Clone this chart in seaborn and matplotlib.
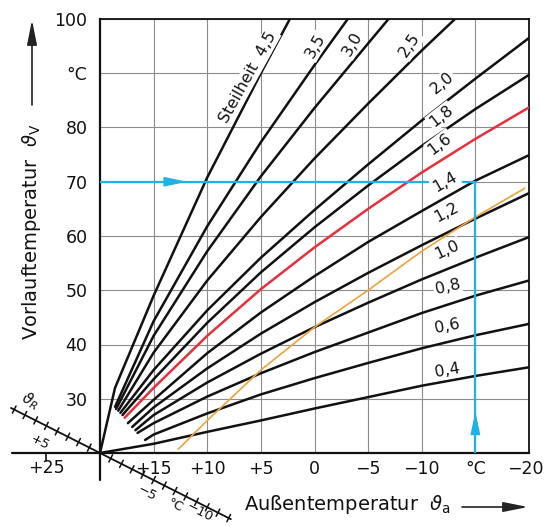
import matplotlib
matplotlib.use("Agg")
import matplotlib.pyplot as plt
import matplotlib.transforms as mtransforms
import seaborn as sns
import pandas as pd

# heating curves: outside temperature (Ta) -> supply temperature (Tv)
ta_04 = [20, 15, 10, 5, 0, -5, -10, -15, -20]
tv_04 = [20, 21.7, 23.9, 26.0, 28.2, 30.3, 32.4, 34.2, 35.8]
ta_06 = [15.8, 15, 10, 5, 0, -5, -10, -15, -20]
tv_06 = [22.4, 23.4, 27.3, 30.8, 33.8, 36.6, 39.3, 41.7, 43.8]
ta_08 = [16.5, 15, 10, 5, 0, -5, -10, -15, -20]
tv_08 = [23.7, 25.5, 30.4, 34.7, 38.6, 42.2, 45.8, 49.0, 51.8]
ta_10 = [16.7, 15, 10, 5, 0, -5, -10, -15, -20]
tv_10 = [24.2, 27.0, 33.0, 38.3, 43.2, 47.7, 52.0, 56.0, 59.8]
ta_12 = [17.0, 15, 10, 5, 0, -5, -10, -15, -20]
tv_12 = [24.8, 28.4, 35.6, 42.0, 47.8, 53.2, 58.3, 63.2, 67.9]
ta_14 = [17.4, 15, 10, 5, 0, -5, -10, -15, -20]
tv_14 = [25.5, 29.8, 38.4, 45.9, 52.6, 58.9, 64.6, 70.2, 74.9]
ta_16 = [17.7, 15, 10, 5, 0, -5, -10, -15, -20]
tv_16 = [26.5, 32.0, 41.6, 50.2, 57.9, 65.0, 71.7, 77.9, 83.7]
ta_18 = [17.9, 15, 10, 5, 0, -5, -10, -15, -20]
tv_18 = [27.0, 33.6, 44.0, 53.3, 61.6, 69.3, 76.6, 83.4, 89.7]
ta_20 = [18.1, 15, 10, 5, 0, -5, -10, -15, -20]
tv_20 = [27.4, 35.3, 46.3, 56.0, 64.8, 73.2, 81.3, 89.0, 96.5]
ta_25 = [18.3, 15, 10, 5, 0, -5, -10, -13.1]
tv_25 = [27.8, 38.5, 51.8, 63.5, 74.3, 84.4, 94.2, 100]
ta_30 = [18.5, 15, 10, 5, 0, -5, -6.9]
tv_30 = [28.1, 41.6, 57.2, 71.0, 83.6, 95.5, 100]
ta_35 = [18.6, 15, 10, 5, 0, -3.1]
tv_35 = [28.5, 44.3, 61.8, 77.3, 91.5, 100]
ta_45 = [20, 18.6, 15, 10, 5, 2.3]
tv_45 = [20, 32.0, 49.0, 70.8, 90.0, 100]

# orange comparison curve
ta_orange = [12.7, 10, 5, 0, -5, -10, -15, -19.6]
tv_orange = [20.7, 26.0, 35.3, 43.2, 50.0, 57.2, 63.5, 68.8]

# curve labels
lab_text = ["Steilheit  4,5", "3,5", "3,0", "2,5", "2,0", "1,8", "1,6",
            "1,4", "1,2", "1,0", "0,8", "0,6", "0,4"]
lab_ta = [6.2, -0.05, -3.5, -8.9, -11.9, -11.8, -11.7, -12.2, -12.3, -12.4, -12.4, -12.4, -12.4]
lab_tv = [89.3, 95.0, 95.4, 95.2, 88.2, 82.1, 77.0, 70.0, 64.4, 57.4, 50.6, 43.4, 35.3]
lab_rot = [61, 60, 60, 56, 40, 38, 37, 30, 28, 25, 13, 11, 10]

# axis ticks
x_ticks = [15, 10, 5, 0, -5, -10, -15, -20]
x_labels = ["+15", "+10", "+5", "0", "\u22125", "\u221210", "\u00b0C", "\u221220"]
y_ticks = [30, 40, 50, 60, 70, 80, 90, 100]
y_labels = ["30", "40", "50", "60", "70", "80", "\u00b0C", "100"]

# room temperature scale (offset in K along the diagonal)
room_ticks = [8, 7, 6, 5, 4, 3, 2, 1, -1, -2, -3, -4, -5, -6, -7, -8, -9, -10, -11, -12]
room_labels = ["+5", "\u22125", "\u00b0C", "\u221210"]
room_lab_ta = [25.6, 15.6, 13.0, 10.7]
room_lab_tv = [22.0, 12.6, 10.4, 9.0]

# example reading: Ta = -15 degC, Tv = 70 degC
ex_ta = -15
ex_tv = 70

BLUE = "#1fb2e6"
RED = "#e8303c"
ORANGE = "#f0a23c"
INK = "#111111"

curves = [("0,4", ta_04, tv_04), ("0,6", ta_06, tv_06), ("0,8", ta_08, tv_08),
          ("1,0", ta_10, tv_10), ("1,2", ta_12, tv_12), ("1,4", ta_14, tv_14),
          ("1,6", ta_16, tv_16), ("1,8", ta_18, tv_18), ("2,0", ta_20, tv_20),
          ("2,5", ta_25, tv_25), ("3,0", ta_30, tv_30), ("3,5", ta_35, tv_35),
          ("4,5", ta_45, tv_45)]
rows = []
for name, ta, tv in curves:
    for a, v in zip(ta, tv):
        rows.append({"curve": name, "ta": a, "tv": v})
df = pd.DataFrame(rows)
palette = {name: (RED if name == "1,6" else INK) for name, _, _ in curves}

sns.set_style("white")
plt.rcParams["font.family"] = ["DejaVu Sans"]
plt.rcParams["mathtext.fontset"] = "dejavusans"

fig = plt.figure(figsize=(5.46, 5.26), dpi=100)
ax = fig.add_axes([100 / 546, 1 - 453 / 526, 429 / 546, 434 / 526])
ax.set_xlim(20, -20)
ax.set_ylim(20, 100)

sns.lineplot(data=df, x="ta", y="tv", hue="curve", palette=palette, units="curve",
             estimator=None, sort=False, legend=False, lw=1.8, ax=ax, zorder=3)
sns.lineplot(x=ta_orange, y=tv_orange, color=ORANGE, lw=1.2, sort=False, ax=ax, zorder=3)

# grid and frame
ax.set_xticks(x_ticks)
ax.set_xticklabels(x_labels)
ax.set_yticks(y_ticks)
ax.set_yticklabels(y_labels)
ax.grid(True, color="#8c8c8c", lw=0.8, zorder=0)
ax.tick_params(length=0, labelsize=12.5, colors=INK)
ax.tick_params(axis="x", pad=5)
ax.tick_params(axis="y", pad=9)
# last x label sits on the figure edge, nudge it in a little
last = ax.get_xticklabels()[-1]
last.set_transform(last.get_transform() + mtransforms.ScaledTranslation(-4 / 100, 0, fig.dpi_scale_trans))
ax.set_xlabel("")
ax.set_ylabel("")
for s in ax.spines.values():
    s.set_color(INK)
    s.set_linewidth(1.3)
ax.spines["left"].set_linewidth(1.6)
ax.spines["bottom"].set_linewidth(1.6)

# extended axis lines through the origin
ax.plot([20, 20], [20, 15.0], color=INK, lw=1.6, clip_on=False)
ax.plot([20, 28.2], [20, 20], color=INK, lw=1.6, clip_on=False)
ax.plot([25, 25], [20, 18.5], color=INK, lw=1.2, clip_on=False)
ax.text(25, -0.014, "+25", transform=ax.get_xaxis_transform(), ha="center", va="top",
        fontsize=12.5, color=INK)

# room temperature scale
ax.plot([20 + 8.3, 20 - 12.2], [20 + 8.3, 20 - 12.2], color=INK, lw=1.3, clip_on=False)
for r in room_ticks:
    ax.plot([20 + r - 0.17, 20 + r + 0.17], [20 + r + 0.66, 20 + r - 0.66],
            color=INK, lw=1.1, clip_on=False)
for t, a, v in zip(room_labels, room_lab_ta, room_lab_tv):
    ax.text(a, v, t, rotation=-27, ha="center", va="center", fontsize=9.5,
            color=INK, clip_on=False)
ax.text(26.5, 29.6, r"$\vartheta_R$", rotation=-27, ha="center", va="center",
        fontsize=11, color=INK, clip_on=False)

# curve labels
for t, a, v, rot in zip(lab_text, lab_ta, lab_tv, lab_rot):
    ax.text(a, v, t, rotation=rot, rotation_mode="anchor", ha="center", va="center",
            fontsize=11.5, color=INK, zorder=6,
            bbox=dict(boxstyle="square,pad=0.1", fc="white", ec="none"))

# example reading in blue
ax.plot([20, ex_ta], [ex_tv, ex_tv], color=BLUE, lw=1.6, zorder=4)
ax.plot([ex_ta, ex_ta], [20, ex_tv], color=BLUE, lw=1.6, zorder=4)
head = dict(arrowstyle="-|>,head_length=1.4,head_width=0.3", color=BLUE, lw=1,
            shrinkA=0, shrinkB=0)
ax.annotate("", xy=(11.9, ex_tv), xytext=(13.8, ex_tv), arrowprops=head, zorder=5)
ax.annotate("", xy=(ex_ta, 27.6), xytext=(ex_ta, 23.7), arrowprops=head, zorder=5)

# axis titles with arrows
fig.text(32 / 546, 1 - 232 / 526, r"Vorlauftemperatur  $\vartheta_{\rm V}$", rotation=90,
         ha="center", va="center", fontsize=14, color=INK)
fig.text(347 / 546, 21 / 526, r"Außentemperatur  $\vartheta_{\rm a}$",
         ha="center", va="center", fontsize=14, color=INK)
arrow = dict(arrowstyle="-|>,head_length=1.5,head_width=0.3", color="#222222", lw=1.2,
             shrinkA=0, shrinkB=0)
ax.annotate("", xy=(32, 506), xytext=(32, 421), xycoords="figure pixels",
            textcoords="figure pixels", arrowprops=arrow)
ax.annotate("", xy=(528, 19), xytext=(462, 19), xycoords="figure pixels",
            textcoords="figure pixels", arrowprops=arrow)

fig.savefig("out.png", dpi=100)
